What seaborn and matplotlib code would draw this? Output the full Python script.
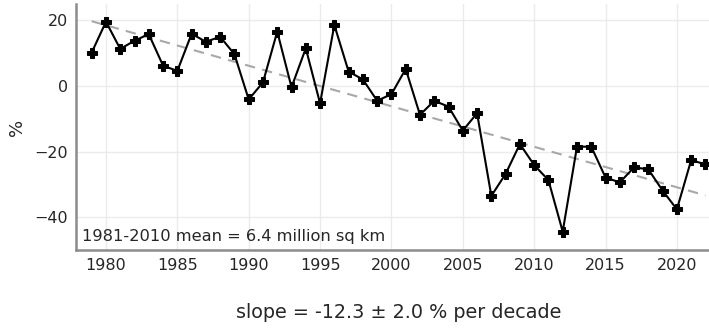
import matplotlib
matplotlib.use("Agg")
import matplotlib.pyplot as plt
import numpy as np
import pandas as pd
import seaborn as sns

# Sea ice extent anomaly (% of 1981-2010 mean)
years = list(range(1979, 2023))
anomaly = [
    10.2, 19.6, 11.3, 13.8, 15.8, 6.2, 4.6, 15.9, 13.5, 15.0,
    9.7, -4.1, 1.1, 16.6, -0.4, 11.5, -5.3, 18.6, 4.4, 2.0,
    -4.5, -2.5, 5.2, -8.8, -4.5, -6.3, -13.6, -8.3, -33.5, -26.8,
    -17.7, -24.1, -28.7, -44.4, -18.5, -18.5, -27.9, -29.4, -24.8, -25.4,
    -31.9, -37.6, -22.6, -23.9,
]
mean_label = "1981-2010 mean = 6.4 million sq km"
slope_label = "slope = -12.3 \u00b1 2.0 % per decade"


def main():
    df = pd.DataFrame({"year": years, "anomaly": anomaly})

    sns.set_theme(style="whitegrid")
    plt.rcParams["font.family"] = ["DejaVu Sans"]

    fig = plt.figure(figsize=(7.09, 3.28), dpi=100)
    ax = fig.add_axes([76 / 709, 1 - 250 / 328, 633 / 709, 246 / 328])

    # Linear trend
    coef = np.polyfit(df.year, df.anomaly, 1)
    trend = np.polyval(coef, df.year)
    ax.plot(df.year, trend, ls=(0, (5, 3.5)), color="#a8a8a8", lw=1.5, zorder=2)

    sns.lineplot(data=df, x="year", y="anomaly", ax=ax, color="black",
                 lw=1.5, marker="P", markersize=7.5, markeredgecolor="black",
                 zorder=3)

    ax.set_xlim(1977.9, 2022.25)
    ax.set_ylim(-50, 25)
    ax.set_xticks(range(1980, 2021, 5))
    ax.set_yticks([-40, -20, 0, 20])
    ax.grid(True, color="#ebebeb", lw=1)
    ax.tick_params(length=0, labelsize=11.5, colors="#262626", pad=6)

    for side in ["top", "right"]:
        ax.spines[side].set_visible(False)
    for side in ["left", "bottom"]:
        ax.spines[side].set_color("#8c8c8c")
        ax.spines[side].set_linewidth(1.8)

    ax.set_ylabel("%", fontsize=13, color="#262626")
    ax.yaxis.set_label_coords(-0.079, 0.5)
    ax.set_xlabel(slope_label, fontsize=13.8, color="#262626")
    ax.xaxis.label.set_va("center")
    ax.xaxis.set_label_coords((399 - 76) / 633, (250 - 313) / 246)
    ax.text(0.009, 0.055, mean_label, transform=ax.transAxes, fontsize=11.7,
            color="#262626", va="center", ha="left")

    fig.savefig("out.png", dpi=100)


if __name__ == "__main__":
    main()
